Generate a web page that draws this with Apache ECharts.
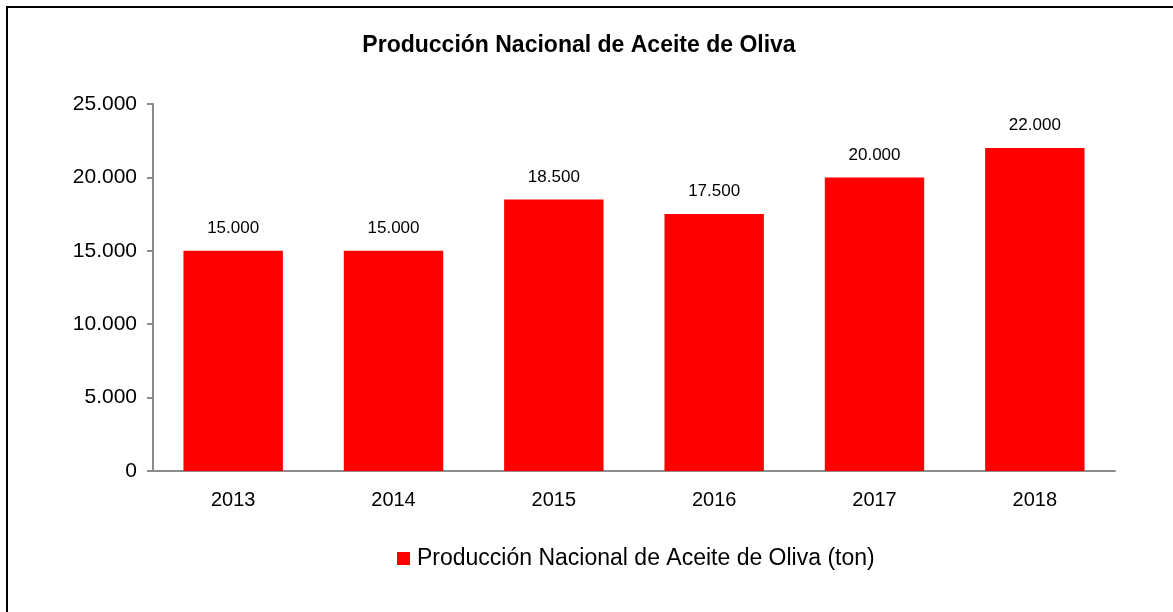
<!DOCTYPE html>
<html>
<head>
<meta charset="utf-8">
<script src="https://cdn.jsdelivr.net/npm/echarts@6/dist/echarts.min.js"></script>
<style>
html, body { margin: 0; padding: 0; background: #fff; }
#chart { width: 1173px; height: 612px; }
</style>
</head>
<body>
<div id="chart"></div>
<script>
var years = ['2013', '2014', '2015', '2016', '2017', '2018'];
var produccion = [15000, 15000, 18500, 17500, 20000, 22000];
var serieName = 'Producción Nacional de Aceite de Oliva (ton)';
var titulo = 'Producción Nacional de Aceite de Oliva';

// miles con punto
function fmt(v) {
    return String(v).replace(/\B(?=(\d{3})+(?!\d))/g, '.');
}

var chart = echarts.init(document.getElementById('chart'));
var fontF = '"Liberation Sans", Arial, sans-serif';

chart.setOption({
    backgroundColor: '#fff',
    animation: false,
    textStyle: {fontFamily: fontF},
    graphic: [{
        type: 'rect',
        shape: {x: 7, y: 7, width: 1250, height: 700},
        style: {fill: 'none', stroke: '#000', lineWidth: 2}
    }],
    title: {
        text: titulo,
        left: 574,
        textAlign: 'center',
        top: 29,
        textStyle: {fontSize: 23, fontWeight: 'bold', color: '#000', fontFamily: fontF}
    },
    legend: {
        bottom: 37,
        left: 392,
        itemWidth: 13,
        itemHeight: 13,
        itemGap: 4,
        icon: 'rect',
        textStyle: {fontSize: 23, color: '#000', fontFamily: fontF, padding: [0, 0, 0, 2]},
        data: [serieName]
    },
    grid: {left: 153, right: 58, top: 104, bottom: 141},
    xAxis: {
        type: 'category',
        data: years,
        axisLine: {lineStyle: {color: '#8c8c8c', width: 2}},
        axisTick: {show: false},
        axisLabel: {fontSize: 20, color: '#000', margin: 19}
    },
    yAxis: {
        type: 'value',
        min: 0,
        max: 25000,
        interval: 5000,
        axisLine: {show: true, lineStyle: {color: '#8c8c8c', width: 2}},
        axisTick: {show: true, length: 6, lineStyle: {color: '#8c8c8c', width: 2}},
        splitLine: {show: false},
        axisLabel: {fontSize: 21, color: '#000', margin: 16, formatter: fmt}
    },
    series: [{
        name: serieName,
        type: 'bar',
        data: produccion,
        barWidth: '62%',
        itemStyle: {color: '#ff0000'},
        label: {
            show: true,
            position: 'top',
            distance: 14,
            fontSize: 17,
            color: '#000',
            formatter: function(p) { return fmt(p.value); }
        }
    }]
});
</script>
</body>
</html>
